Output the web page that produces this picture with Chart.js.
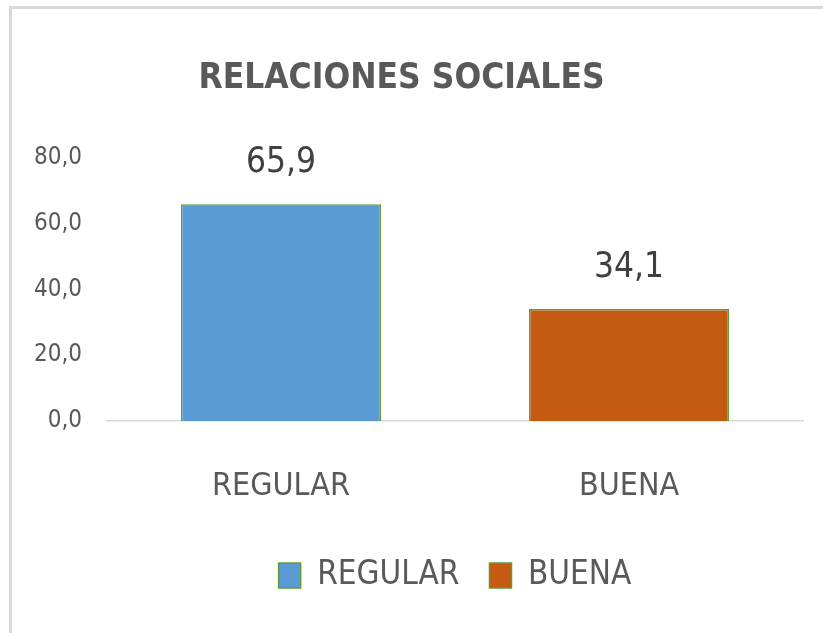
<!DOCTYPE html>
<html>
<head>
<meta charset="utf-8">
<script src="https://cdn.jsdelivr.net/npm/chart.js@4/dist/chart.umd.min.js"></script>
<style>
  html, body { margin: 0; padding: 0; background: #fff; }
  #wrap { position: relative; width: 823px; height: 633px; overflow: hidden; }
  #frame {
    position: absolute; left: 9px; top: 6px; width: 900px; height: 700px;
    border-left: 3px solid #d9d9d9; border-top: 3px solid #d9d9d9;
  }
  #chart { position: absolute; left: 0; top: 0; }
</style>
</head>
<body>
<div id="wrap">
  <div id="frame"></div>
  <canvas id="chart" width="823" height="633"></canvas>
</div>
<script>
// data
const categories = ['REGULAR', 'BUENA']
const values = [65.9, 34.1]
const barColors = ['#5B9BD5', '#C55A11']
const yTicks = [0, 20, 40, 60, 80]

const FONT = "'Liberation Sans Narrow', 'DejaVu Sans Condensed', 'Liberation Sans', sans-serif"
const GREEN = '#5E9A3A'
const GREY = '#595959'

// spanish decimal comma
const fmt = v => v.toFixed(1).replace('.', ',')

// draws the value above each bar
const valueLabels = {
  id: 'valueLabels',
  afterDatasetsDraw(chart) {
    const ctx = chart.ctx
    const meta = chart.getDatasetMeta(0)
    ctx.save()
    ctx.font = '35px ' + FONT
    ctx.fillStyle = '#404040'
    ctx.textAlign = 'center'
    ctx.textBaseline = 'middle'
    meta.data.forEach((bar, i) => {
      ctx.fillText(fmt(values[i]), bar.x, bar.y - 41)
    })
    ctx.restore()
  }
}

new Chart(document.getElementById('chart'), {
  type: 'bar',
  data: {
    labels: categories,
    datasets: [{
      data: values,
      backgroundColor: barColors,
      borderColor: GREEN,
      borderWidth: 1.5,
      categoryPercentage: 1,
      barPercentage: 0.575
    }]
  },
  options: {
    responsive: false,
    animation: false,
    layout: { padding: { left: 0, right: 20, top: 0, bottom: 31 } },
    plugins: {
      title: {
        display: true,
        text: 'RELACIONES SOCIALES',
        color: GREY,
        font: { family: FONT, size: 35, weight: 'bold' },
        padding: { top: 58, bottom: 58 }
      },
      legend: {
        display: true,
        position: 'bottom',
        fullSize: false,
        labels: {
          color: GREY,
          font: { family: FONT, size: 33 },
          boxWidth: 22,
          boxHeight: 25,
          padding: 30,
          // one entry per category, like the original
          generateLabels: () => categories.map((c, i) => ({
            text: c,
            fillStyle: barColors[i],
            strokeStyle: GREEN,
            fontColor: GREY,
            lineWidth: 1.5,
            index: i
          }))
        }
      },
      tooltip: { enabled: false }
    },
    scales: {
      y: {
        min: 0,
        max: 80,
        afterBuildTicks: s => { s.ticks = yTicks.map(v => ({ value: v })) },
        afterFit: s => { s.width = 107 },
        grid: { display: false },
        border: { display: false },
        ticks: {
          color: GREY,
          padding: 17,
          font: { family: FONT, size: 24 },
          callback: v => fmt(v)
        }
      },
      x: {
        afterFit: s => { s.height = 108 },
        grid: { display: false },
        border: { display: true, color: '#d9d9d9', width: 1.5 },
        ticks: {
          color: GREY,
          padding: 38,
          font: { family: FONT, size: 32 }
        }
      }
    }
  },
  plugins: [valueLabels]
})
</script>
</body>
</html>
